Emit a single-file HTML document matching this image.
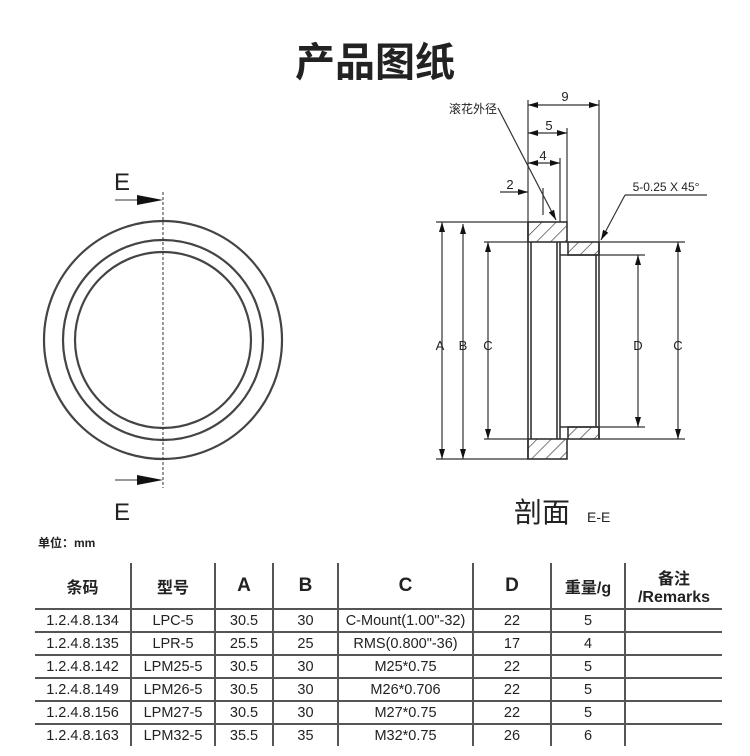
<!DOCTYPE html>
<html><head><meta charset="utf-8"><style>
body{margin:0;background:#fff;width:750px;height:756px;overflow:hidden;position:relative;font-family:"Liberation Sans","Noto Sans CJK SC",sans-serif;}
.t{position:absolute;}
table{position:absolute;left:35px;top:563px;border-collapse:collapse;font-family:"Liberation Sans","Noto Sans CJK SC",sans-serif;color:#222;}
td{text-align:center;font-size:14.5px;height:21px;padding:0;border-left:2px solid #555;border-top:2px solid #555;}
td:first-child{border-left:none}
tr.h td{border-top:none;height:45px;font-weight:bold;font-size:16px;}
tr.h td.b{font-size:19px}
</style></head><body>
<div class="t" style="left:0;width:750px;top:30px;text-align:center;font-size:40px;font-weight:bold;color:#222;font-family:'Noto Sans CJK SC',sans-serif;">产品图纸</div>
<svg width="750" height="560" style="position:absolute;left:0;top:0" xmlns="http://www.w3.org/2000/svg">
<defs><marker id="a" markerWidth="10" markerHeight="6" refX="10" refY="3" orient="auto-start-reverse" markerUnits="userSpaceOnUse"><path d="M0,0L10,3L0,6z" fill="#111"/></marker>
<pattern id="h" width="10" height="10" patternUnits="userSpaceOnUse" patternTransform="rotate(45)"><line x1="0" y1="0" x2="0" y2="10" stroke="#333" stroke-width="1.3"/></pattern></defs>
<g fill="none" stroke="#444" stroke-width="2.2">
<circle cx="163" cy="340" r="119"/><circle cx="163" cy="340" r="100"/><circle cx="163" cy="340" r="88"/></g>
<line x1="163" y1="192" x2="163" y2="488" stroke="#333" stroke-dasharray="3,2" stroke-width="1"/>
<line x1="115" y1="200" x2="148" y2="200" stroke="#333"/><path d="M137,195L163,200L137,205z" fill="#111"/>
<line x1="115" y1="480" x2="148" y2="480" stroke="#333"/><path d="M137,475L163,480L137,485z" fill="#111"/>
<text x="114" y="190" font-size="24" fill="#222">E</text>
<text x="114" y="520" font-size="24" fill="#222">E</text>
<g stroke="#333" stroke-width="1.6">
<rect x="528" y="222" width="39" height="20" fill="url(#h)"/>
<rect x="528" y="439" width="39" height="20" fill="url(#h)"/>
<rect x="568" y="242" width="31" height="13" fill="url(#h)"/>
<rect x="568" y="427" width="31" height="12" fill="url(#h)"/>
<line x1="528" y1="222" x2="528" y2="459"/><line x1="531" y1="242" x2="531" y2="439"/>
<line x1="557" y1="242" x2="557" y2="439"/><line x1="560" y1="242" x2="560" y2="439"/>
<line x1="560" y1="255" x2="599" y2="255"/><line x1="560" y1="427" x2="599" y2="427"/>
<line x1="599" y1="242" x2="599" y2="439"/><line x1="596" y1="255" x2="596" y2="427"/>
</g>
<g stroke="#333" stroke-width="1.2" fill="none">
<line x1="436" y1="222" x2="528" y2="222"/><line x1="436" y1="459" x2="528" y2="459"/>
<line x1="484" y1="242" x2="528" y2="242"/><line x1="484" y1="439" x2="528" y2="439"/>
<line x1="599" y1="255" x2="645" y2="255"/><line x1="599" y1="427" x2="645" y2="427"/>
<line x1="599" y1="242" x2="685" y2="242"/><line x1="599" y1="439" x2="685" y2="439"/>
<line x1="442" y1="222" x2="442" y2="459" marker-start="url(#a)" marker-end="url(#a)"/>
<line x1="463" y1="224" x2="463" y2="459" marker-start="url(#a)" marker-end="url(#a)"/>
<line x1="488" y1="242" x2="488" y2="439" marker-start="url(#a)" marker-end="url(#a)"/>
<line x1="638" y1="255" x2="638" y2="427" marker-start="url(#a)" marker-end="url(#a)"/>
<line x1="678" y1="242" x2="678" y2="439" marker-start="url(#a)" marker-end="url(#a)"/>
<line x1="528" y1="100" x2="528" y2="222"/><line x1="599" y1="100" x2="599" y2="242"/>
<line x1="567" y1="128" x2="567" y2="222"/><line x1="560" y1="158" x2="560" y2="222"/><line x1="543" y1="188" x2="543" y2="215"/>
<line x1="528" y1="105" x2="599" y2="105" marker-start="url(#a)" marker-end="url(#a)"/>
<line x1="528" y1="133" x2="567" y2="133" marker-start="url(#a)" marker-end="url(#a)"/>
<line x1="528" y1="163" x2="560" y2="163" marker-start="url(#a)" marker-end="url(#a)"/>
<line x1="500" y1="192" x2="528" y2="192" marker-end="url(#a)"/>
<line x1="498" y1="108" x2="556" y2="220" marker-end="url(#a)"/>
<line x1="707" y1="195" x2="625" y2="195"/><line x1="625" y1="195" x2="601" y2="240" marker-end="url(#a)"/>
</g>
<g font-size="13" fill="#222" text-anchor="middle">
<text x="565" y="101">9</text><text x="549" y="130">5</text><text x="543" y="160">4</text><text x="510" y="189">2</text>
<text x="473" y="113" font-size="12">滚花外径</text>
<text x="666" y="191" font-size="12">5-0.25 X 45°</text>
<text x="440" y="350">A</text><text x="463" y="350">B</text><text x="488" y="350">C</text>
<text x="638" y="350">D</text><text x="678" y="350">C</text>
</g>
<text x="514" y="522" font-size="28" fill="#222">剖面</text>
<text x="587" y="522" font-size="14" fill="#222">E-E</text>
<text x="38" y="547" font-size="12" font-weight="bold" fill="#222">单位：mm</text>
</svg>
<table>
<tr class="h"><td style="width:95px">条码</td><td style="width:82px">型号</td><td class="b" style="width:56px">A</td><td class="b" style="width:63px">B</td><td class="b" style="width:133px">C</td><td class="b" style="width:76px">D</td><td style="width:72px">重量/g</td><td style="width:96px">备注<br>/Remarks</td></tr>
<tr><td>1.2.4.8.134</td><td>LPC-5</td><td>30.5</td><td>30</td><td>C-Mount(1.00"-32)</td><td>22</td><td>5</td><td></td></tr>
<tr><td>1.2.4.8.135</td><td>LPR-5</td><td>25.5</td><td>25</td><td>RMS(0.800"-36)</td><td>17</td><td>4</td><td></td></tr>
<tr><td>1.2.4.8.142</td><td>LPM25-5</td><td>30.5</td><td>30</td><td>M25*0.75</td><td>22</td><td>5</td><td></td></tr>
<tr><td>1.2.4.8.149</td><td>LPM26-5</td><td>30.5</td><td>30</td><td>M26*0.706</td><td>22</td><td>5</td><td></td></tr>
<tr><td>1.2.4.8.156</td><td>LPM27-5</td><td>30.5</td><td>30</td><td>M27*0.75</td><td>22</td><td>5</td><td></td></tr>
<tr><td>1.2.4.8.163</td><td>LPM32-5</td><td>35.5</td><td>35</td><td>M32*0.75</td><td>26</td><td>6</td><td></td></tr>
</table>
</body></html>
